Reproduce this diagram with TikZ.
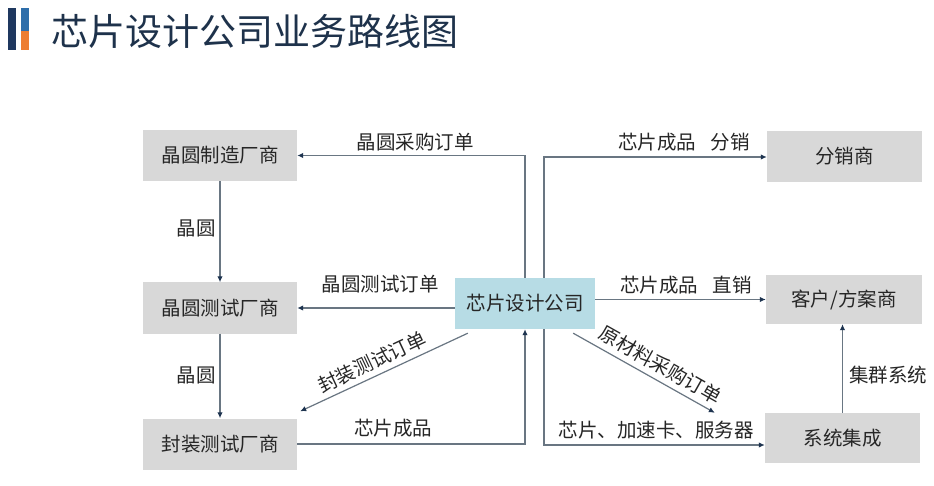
\documentclass[tikz,border=0pt]{standalone}
\usepackage{fontspec}
\newfontfamily\cjk{Noto Sans CJK SC}
\usetikzlibrary{arrows.meta,calc}
\definecolor{boxgray}{RGB}{216,216,216}
\definecolor{boxblue}{RGB}{183,220,229}
\definecolor{linec}{RGB}{105,118,130}
\definecolor{tipc}{RGB}{30,52,80}
\definecolor{txt}{RGB}{38,38,38}
\definecolor{titlec}{RGB}{30,50,75}
\definecolor{navy}{RGB}{31,56,95}
\definecolor{iconblue}{RGB}{46,110,170}
\definecolor{iconorange}{RGB}{237,125,49}
\tikzset{
  entity/.style={fill=boxgray, inner sep=0pt, minimum width=154pt, minimum height=51pt,
     font=\cjk\fontsize{19.5}{22}\selectfont, text=txt},
  lbl/.style={inner sep=0pt, font=\cjk\fontsize{19.5}{22}\selectfont, text=txt},
  arr/.style={draw=linec, line width=1.2pt, -{Latex[length=6pt,width=5.5pt,color=tipc]}}
}
\begin{document}
\begin{tikzpicture}[x=1pt,y=-1pt]
\useasboundingbox[fill=white] (0,0) rectangle (934,486);
% title icon
\fill[navy] (8,8) rectangle (16,50);
\fill[iconblue] (21,8) rectangle (29,31);
\fill[iconorange] (21,31) rectangle (29,50);
\node[anchor=west, inner sep=0pt, font=\cjk\fontsize{37}{42}\selectfont, text=titlec] (title) at (51,31) {芯片设计公司业务路线图};
% boxes
\node[entity] (a1) at (220,155.5) {晶圆制造厂商};
\node[entity] (a2) at (220,308) {晶圆测试厂商};
\node[entity] (a3) at (220,444) {封装测试厂商};
\node[entity, fill=boxblue, minimum width=140pt] (d) at (525,303.5) {芯片设计公司};
\node[entity, minimum width=155pt] (r1) at (844.5,156.5) {分销商};
\node[entity, minimum width=156pt, minimum height=49pt] (r2) at (844,299.5) {客户/方案商};
\node[entity, minimum width=155pt, minimum height=50pt] (r3) at (842.5,438) {系统集成};
% helper coordinates
\coordinate (cl) at (525,157);
\coordinate (cr) at (544,157);
\coordinate (cb) at (544,445);
% connectors
\draw[arr] (d.north -| cl) |- (a1.east);
\draw[arr] (d.north -| cr) |- (r1.west |- cr);
\draw[arr] (a1.south) -- (a2.north);
\draw[arr] (a2.south) -- (a3.north);
\draw[arr] (d.west |- a2.east) -- (a2.east);
\draw[arr] (d.east |- r2.west) -- (r2.west);
\draw[arr] ($(d.south west)+(13,4)$) -- ($(a3.north east)+(3,-7)$);
\draw[arr] ($(d.south east)+(-22,4)$) -- ($(r3.north west)+(-50,0)$);
\draw[arr] (a3.east) -| (d.south -| cl);
\draw[arr] (d.south -| cb) |- (r3.west |- cb);
\draw[arr] (r3.north) -- (r3.north |- r2.south);
% labels
\node[lbl] (l1) at (415,142) {晶圆采购订单};
\node[lbl] (l2) at (684,142) {芯片成品\hspace{0.75em}分销};
\node[lbl] (l3) at (196,228) {晶圆};
\node[lbl] (l4) at (380,284) {晶圆测试订单};
\node[lbl] (l5) at (686,285) {芯片成品\hspace{0.75em}直销};
\node[lbl] (l6) at (196,375) {晶圆};
\node[lbl, rotate=25.2] (l7) at (372,362) {封装测试订单};
\node[lbl] (l8) at (393,428) {芯片成品};
\node[lbl, rotate=-29.4] (l9) at (661,365) {原材料采购订单};
\node[lbl] (l10) at (656,430) {芯片、加速卡、服务器};
\node[lbl] (l11) at (888,375) {集群系统};
\end{tikzpicture}
\end{document}
